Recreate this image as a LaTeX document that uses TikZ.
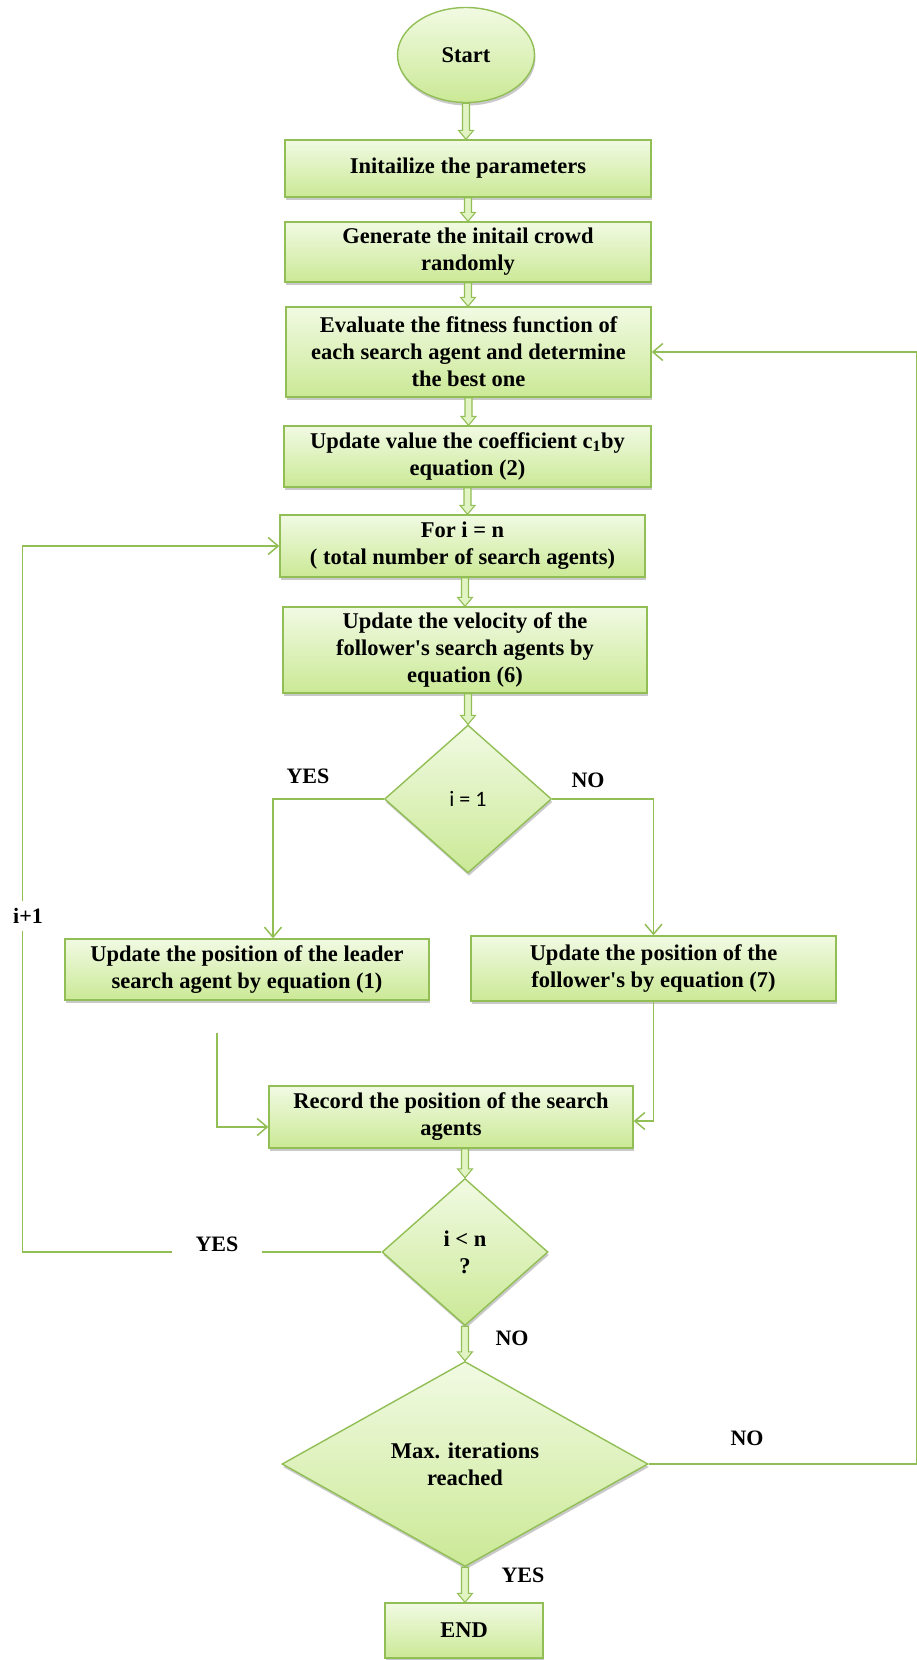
\documentclass[tikz,border=0pt]{standalone}
\usepackage{fontspec}
\setmainfont{Liberation Serif}
\newfontfamily\calib{Carlito}
\usetikzlibrary{shapes.geometric,arrows.meta,calc,shadows}
\definecolor{gline}{RGB}{146,190,86}
\definecolor{gtop}{RGB}{241,250,227}
\definecolor{gbot}{RGB}{203,233,150}
\definecolor{garr}{RGB}{226,243,196}
\tikzset{
  base/.style={draw=gline, line width=1.4pt, top color=gtop, bottom color=gbot,
    font=\bfseries\fontsize{22.5}{27}\selectfont, align=center, inner sep=0pt,
    drop shadow={shadow xshift=1pt, shadow yshift=-3pt, opacity=0.3, fill=black!70}},
  dia/.style={base, diamond},
  arr/.style={draw=gline, line width=1.5pt, -{Straight Barb[length=10pt,width=17pt]}},
  fat/.style={draw=gline, fill=garr, line width=1.1pt, line join=miter},
  lbl/.style={font=\bfseries\fontsize{22}{24}\selectfont, inner sep=0pt}
}
\newcommand{\fatarrow}[2]{%
  \draw[fat] ($(#1)+(-3.5,0)$) -- ($(#2)+(-3.5,-9)$) -- ($(#2)+(-7.5,-9)$) -- (#2)
    -- ($(#2)+(7.5,-9)$) -- ($(#2)+(3.5,-9)$) -- ($(#1)+(3.5,0)$) -- cycle;}
\begin{document}
\begin{tikzpicture}[x=1pt,y=-1pt]
\useasboundingbox (0,0) rectangle (917,1660);
% nodes
\node[base, ellipse, minimum width=137, minimum height=95] (start) at (466,55) {Start};
\node[base, minimum width=366, minimum height=57] (init) at (468,168.5) {Initailize the parameters};
\node[base, minimum width=366, minimum height=60] (gen) at (468,252) {Generate the initail crowd\\randomly};
\node[base, minimum width=365, minimum height=90] (eval) at (468.5,352) {Evaluate the fitness function of\\each search agent and determine\\the best one};
\node[base, minimum width=367, minimum height=61] (upd) at (467.5,456.5) {Update value the coefficient c\textsubscript{1}by\\equation (2)};
\node[base, minimum width=365, minimum height=62] (for) at (462.5,546) {For i = n\\( total number of search agents)};
\node[base, minimum width=364, minimum height=86] (vel) at (465,650) {Update the velocity of the\\follower\textquotesingle s search agents by\\equation (6)};
\node[dia, aspect=1.13, minimum width=167, minimum height=148] (d1) at (468,799) {\calib\mdseries\fontsize{22}{24}\selectfont i = 1};
\node[base, minimum width=364, minimum height=61] (leader) at (247,969.5) {Update the position of the leader\\search agent by equation (1)};
\node[base, minimum width=365, minimum height=65] (foll) at (653.5,968.5) {Update the position of the\\follower\textquotesingle s by equation (7)};
\node[base, minimum width=364, minimum height=62] (rec) at (451,1117) {Record the position of the search\\agents};
\node[dia, aspect=1.13, minimum width=166, minimum height=147] (d2) at (465,1252) {i {\textless} n\\?};
\node[dia, aspect=1.78, minimum width=366, minimum height=205] (dmax) at (465,1464) {Max. iterations\\reached};
\node[base, minimum width=158, minimum height=55] (end) at (464,1630.5) {END};
% thick hollow arrows
\fatarrow{start.south}{start.south |- init.north}
\fatarrow{init.south}{init.south |- gen.north}
\fatarrow{gen.south}{gen.south |- eval.north}
\fatarrow{eval.south}{eval.south |- upd.north}
\fatarrow{upd.south}{upd.south |- for.north}
\fatarrow{vel.north |- for.south}{vel.north}
\fatarrow{d1.north |- vel.south}{d1.north}
\fatarrow{d2.north |- rec.south}{d2.north}
\fatarrow{d2.south}{dmax.north}
\fatarrow{dmax.south}{dmax.south |- end.north}
% thin connectors
\coordinate (lstart) at (217,1033);
\draw[arr] (d1.west) -| ($(leader.north)+(26,0)$);
\draw[arr] (d1.east) -| (foll.north);
\draw[arr] (lstart) |- ($(rec.west)+(0,10)$);
\draw[arr] (foll.south) |- ($(rec.east)+(0,4)$);
\draw[arr] (d2.west) -- ++(-359,0) |- (for.west);
\draw[arr] (dmax.east) -- ++(268,0) |- (eval.east);
% labels
\node[lbl, fill=white, minimum width=90, minimum height=26] (yes2) at (217,1244) {YES};
\node[lbl, fill=white, minimum height=30, inner xsep=2pt] (iplus) at (28,916) {i+1};
\node[lbl] (yes1) at (308,776) {YES};
\node[lbl] (no1) at (588,780) {NO};
\node[lbl] (no2) at (512,1338) {NO};
\node[lbl] (no3) at (747,1438) {NO};
\node[lbl] (yes3) at (523,1575) {YES};
\end{tikzpicture}
\end{document}
